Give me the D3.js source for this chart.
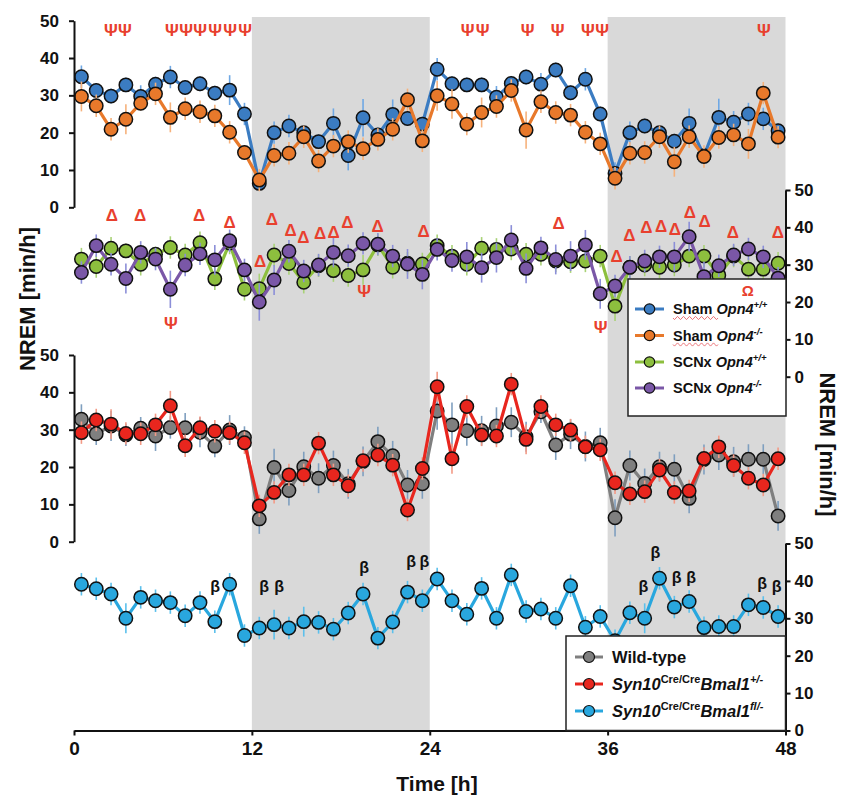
<!DOCTYPE html>
<html><head><meta charset="utf-8">
<script src="https://cdn.jsdelivr.net/npm/d3@7"></script>
<style>body{margin:0;background:#fff}svg{display:block}text{font-family:"Liberation Sans",Arial,sans-serif}</style>
</head><body><svg id="c" width="843" height="798"></svg>
<script>
// ---------- data ----------
const hours = d3.range(48).map(i => i + 0.5);       // hourly bins (ZT)
const xTicks = [0, 12, 24, 36, 48];
const yTicks = [0, 10, 20, 30, 40, 50];
const darkStarts = [12, 36];
const darkEnds = [24, 48];

const shamWT = [35.0,31.3,29.8,32.8,29.7,33.0,34.9,32.1,33.1,30.6,31.4,25.0,6.4,20.0,21.8,20.0,17.6,22.5,13.9,24.0,19.4,24.9,23.8,22.3,37.0,33.1,32.8,32.8,29.5,33.2,34.9,33.0,36.8,30.7,34.3,25.0,9.1,20.0,21.8,20.0,17.7,22.5,13.8,24.1,22.8,25.0,23.7,20.5];
const shamKO = [29.7,27.2,20.9,23.6,27.9,30.4,24.1,26.4,25.6,24.5,20.1,14.7,7.3,13.9,14.5,18.9,12.4,16.4,17.6,15.7,18.2,20.9,28.8,17.8,29.9,27.7,22.3,25.4,27.0,31.3,20.7,28.3,25.4,24.7,20.1,17.0,7.8,14.5,14.7,18.9,12.2,18.9,13.6,18.7,19.4,17.0,30.6,18.8];
const scnWT = [31.5,29.5,34.4,33.7,30.1,32.8,34.6,32.6,35.9,26.2,35.8,23.4,23.6,32.6,30.3,25.3,29.7,28.4,27.1,28.6,35.3,29.3,30.4,30.2,35.1,32.3,30.1,34.4,34.1,34.2,32.8,32.8,31.0,30.8,31.0,32.3,18.9,29.3,29.9,29.3,29.9,32.3,32.3,27.2,32.3,28.8,28.8,30.4];
const scnKO = [27.9,35.1,30.1,26.3,33.3,31.5,23.4,29.9,32.9,31.3,36.4,28.6,20.0,25.9,33.6,28.3,29.9,33.3,32.4,35.7,35.5,32.3,30.2,27.4,34.1,31.1,32.1,29.2,31.9,36.6,29.0,34.5,31.4,32.3,35.3,22.2,24.3,29.3,31.0,32.1,32.1,37.5,26.8,29.7,32.6,34.2,32.1,26.4];
const wildType = [32.8,28.9,31.0,28.6,30.4,28.3,30.6,30.5,29.3,25.6,29.9,27.9,6.1,19.9,13.7,20.1,17.0,20.4,15.5,21.5,26.8,23.0,15.2,15.5,35.0,31.3,29.7,29.7,31.0,32.0,28.1,34.8,25.9,28.8,25.5,26.5,6.4,20.4,15.6,20.1,19.4,11.6,22.0,23.2,21.4,22.1,22.1,6.9];
const bmalHet = [29.2,32.6,31.5,29.0,28.9,31.3,36.4,25.7,30.5,29.6,29.2,26.5,9.6,13.2,17.9,17.9,26.4,17.9,15.0,21.7,23.2,20.5,8.5,19.6,41.5,22.2,36.2,28.6,28.3,42.2,27.4,36.2,31.3,29.9,25.4,24.6,15.8,12.8,13.4,19.2,13.2,13.6,22.3,25.4,20.4,17.0,15.2,22.2];
const bmalFl = [39.1,37.9,36.5,30.0,35.6,34.7,34.2,30.7,34.2,29.1,39.1,25.4,27.4,28.3,27.4,29.1,28.9,27.1,31.4,36.5,24.7,29.0,37.0,34.7,40.5,34.7,31.1,38.0,30.0,41.6,31.8,32.5,30.0,38.7,27.6,30.5,24.0,31.5,30.0,40.7,33.0,34.5,27.5,27.8,27.8,33.6,32.9,30.5];

const errShamWT = [3,2,2,2,3,2,3,2,2,2,4,3,2,3,3,2,2,4,4,5,2,4,2,2,3,2,2,2,3,2,2,3,2,2,3,2,3,3,2,2,2,4,2,5,3,3,3,2];
const errShamKO = [4,3,3,4,2,3,4,3,3,3,3,2,3,3,3,3,3,3,3,3,3,3,3,3,4,4,3,4,3,3,5,3,3,3,3,3,3,3,3,3,4,3,3,3,3,4,3,3];
const errScnWT = [3,3,3,2,3,2,3,3,3,3,3,3,4,3,3,3,3,3,3,4,3,3,3,3,3,3,3,3,3,3,3,3,3,3,3,3,4,3,3,3,3,3,3,3,3,3,3,3];
const errScnKO = [3,3,3,4,3,3,5,3,3,4,3,3,5,4,3,3,3,4,3,3,3,3,4,4,3,3,4,4,4,4,4,3,4,4,4,4,3,3,3,3,4,4,4,3,3,3,3,3];
const errWild = [4,3,4,3,3,4,3,4,4,3,4,3,4,5,4,4,4,4,4,4,4,4,4,4,5,6,4,4,5,4,4,3,4,4,4,4,5,4,4,4,4,4,4,4,4,4,4,4];
const errHet = [3,3,4,3,3,3,4,3,3,3,3,3,3,3,3,3,3,3,3,3,3,3,3,3,4,4,3,3,3,3,4,3,3,3,3,3,3,3,3,3,3,3,3,3,3,3,3,3];
const errFl = [3,3,3,4,3,3,3,3,3,3,3,3,3,4,3,4,3,3,3,3,3,3,3,3,3,3,3,3,3,3,3,3,3,3,3,3,3,3,4,3,3,3,3,3,3,3,3,3];

// significance marks (hour position, level in panel units)
const psiTopH = [2.48,3.44,6.6,7.56,8.51,9.52,10.53,11.55,26.56,27.57,30.61,32.63,34.66,35.63,46.54];
const psiTopV = 47.5;
const deltaH = [2.55,4.46,8.44,10.49,12.56,13.35,14.62,15.48,16.61,17.51,18.45,20.48,23.59,32.70,36.60,37.47,38.62,39.61,40.53,41.55,42.54,44.45,47.49];
const deltaV = [43.3,43.3,43.3,41.4,31.0,42.2,39.3,37.5,38.6,38.8,41.3,40.4,39.1,41.1,32.3,38.0,40.2,40.4,39.6,44.0,41.8,38.8,38.7];
const psiMidH = [6.53,19.58,35.52];
const psiMidV = [14.5,23.0,13.4];
const omegaH = [45.46];
const omegaV = [23.0];
const betaH = [9.52,12.83,13.84,19.58,22.75,23.63,38.42,39.23,40.65,41.64,46.43,47.40];
const betaV = [38.6,38.6,38.6,43.7,45.3,45.3,38.4,47.7,41.0,41.0,39.4,38.4];

// ---------- drawing ----------
const svg = d3.select("#c");
const x = d3.scaleLinear().domain([0, 48]).range([74, 785.5]);
const y1 = d3.scaleLinear().domain([0, 50]).range([207.3, 20.7]);
const y2 = d3.scaleLinear().domain([0, 50]).range([376.7, 190]);
const y3 = d3.scaleLinear().domain([0, 50]).range([541.7, 355]);
const y4 = d3.scaleLinear().domain([0, 50]).range([730.5, 543.5]);

darkStarts.forEach((s, k) => {
  svg.append("rect").attr("x", x(s)).attr("y", 17).attr("width", x(darkEnds[k]) - x(s))
    .attr("height", 730.5 - 17).attr("fill", "#d9d9d9");
});

function series(y, vals, errs, color, errColor) {
  const g = svg.append("g");
  g.selectAll("line.e").data(vals).join("line")
    .attr("x1", (d, i) => x(hours[i])).attr("x2", (d, i) => x(hours[i]))
    .attr("y1", (d, i) => y(d - errs[i])).attr("y2", (d, i) => y(d + errs[i]))
    .attr("stroke", errColor).attr("stroke-width", 1.6);
  g.append("path").datum(vals)
    .attr("d", d3.line().x((d, i) => x(hours[i])).y(d => y(d)))
    .attr("fill", "none").attr("stroke", color).attr("stroke-width", 3.2).attr("stroke-linejoin", "round");
  g.selectAll("circle").data(vals).join("circle")
    .attr("cx", (d, i) => x(hours[i])).attr("cy", d => y(d)).attr("r", 6.7)
    .attr("fill", color).attr("stroke", "#111").attr("stroke-width", 1.5);
}

const C = {shamWT:"#3b7cc2", shamKO:"#e8792b", scnWT:"#8dbf3e", scnKO:"#7a57a7", wild:"#7f7f7f", het:"#e8261e", fl:"#29a7de"};

series(y1, shamWT, errShamWT, C.shamWT, "#6fa8e4");
series(y1, shamKO, errShamKO, C.shamKO, "#f6b27c");
series(y2, scnWT, errScnWT, C.scnWT, "#a9d277");
series(y2, scnKO, errScnKO, C.scnKO, "#8c8fd8");
series(y3, wildType, errWild, C.wild, "#7f9fbf");
series(y3, bmalHet, errHet, C.het, "#f39a86");
series(y4, bmalFl, errFl, C.fl, "#5cc0ec");

function styleAxis(g, fs) {
  g.select(".domain").attr("stroke", "#111").attr("stroke-width", 2);
  g.selectAll(".tick line").attr("stroke", "#111").attr("stroke-width", 2);
  g.selectAll(".tick text").attr("font-size", fs).attr("font-weight", "bold").attr("fill", "#111")
    .style("font-family", '"Liberation Sans",Arial,sans-serif');
}
[[y1, "L"], [y2, "R"], [y3, "L"], [y4, "R"]].forEach(([y, side]) => {
  const ax = side === "L" ? d3.axisLeft(y).tickPadding(10) : d3.axisRight(y).tickPadding(4);
  ax.tickValues(yTicks).tickSize(5).tickSizeOuter(0);
  const g = svg.append("g").attr("transform", `translate(${side === "L" ? x(0) : x(48)},0)`).call(ax);
  styleAxis(g, 17);
});
const gx = svg.append("g").attr("transform", "translate(0,730.5)")
  .call(d3.axisBottom(x).tickValues(xTicks).tickSize(5).tickSizeOuter(0).tickPadding(6.5));
styleAxis(gx, 19);

svg.append("text").attr("transform", "translate(35,299) rotate(-90)").attr("text-anchor", "middle")
  .attr("font-size", 22).attr("font-weight", "bold").attr("fill", "#111").text("NREM [min/h]");
svg.append("text").attr("transform", "translate(820,444.5) rotate(90)").attr("text-anchor", "middle")
  .attr("font-size", 22).attr("font-weight", "bold").attr("fill", "#111").text("NREM [min/h]");
svg.append("text").attr("x", 437).attr("y", 791).attr("text-anchor", "middle")
  .attr("font-size", 21).attr("font-weight", "bold").attr("fill", "#111").text("Time [h]");

function marks(hs, vs, y, sym, color, fs) {
  svg.append("g").selectAll("text").data(hs).join("text")
    .attr("x", h => x(h)).attr("y", (h, i) => y(Array.isArray(vs) ? vs[i] : vs))
    .attr("dy", "0.35em").attr("text-anchor", "middle")
    .attr("font-size", fs).attr("font-weight", "bold").attr("fill", color).text(sym);
}
marks(psiTopH, psiTopV, y1, "Ψ", "#e8402e", 17);
marks(deltaH, deltaV, y2, "Δ", "#e8402e", 17);
marks(psiMidH, psiMidV, y2, "Ψ", "#e8402e", 17);
marks(betaH, betaV, y4, "β", "#111", 16);

// legend 1
const L1 = svg.append("g");
L1.append("rect").attr("x", 628).attr("y", 279).attr("width", 158).attr("height", 137)
  .attr("fill", "#fff").attr("stroke", "#222").attr("stroke-width", 1.5);
marks(omegaH, omegaV, y2, "Ω", "#e8402e", 15);
const leg1 = [
  {pre: "Sham ", it: "Opn4", sup: "+/+", c: C.shamWT, wavy: true},
  {pre: "Sham ", it: "Opn4", sup: "-/-", c: C.shamKO, wavy: true},
  {pre: "SCNx ", it: "Opn4", sup: "+/+", c: C.scnWT},
  {pre: "SCNx ", it: "Opn4", sup: "-/-", c: C.scnKO}
];
const leg1Y = [309, 335.5, 362, 388];
leg1.forEach((d, k) => {
  const yy = leg1Y[k];
  L1.append("line").attr("x1", 635).attr("x2", 664).attr("y1", yy).attr("y2", yy)
    .attr("stroke", d.c).attr("stroke-width", 3);
  L1.append("circle").attr("cx", 649.5).attr("cy", yy).attr("r", 5.2).attr("fill", d.c)
    .attr("stroke", "#111").attr("stroke-width", 1.2);
  const t = L1.append("text").attr("x", 673).attr("y", yy + 5).attr("font-size", 14.5)
    .attr("font-weight", "bold").attr("fill", "#111");
  t.append("tspan").text(d.pre);
  t.append("tspan").attr("font-style", "italic").text(d.it);
  t.append("tspan").attr("font-size", 9.5).attr("dy", -6).attr("font-style", "italic").text(d.sup);
  if (d.wavy) {
    let p = "M673," + (yy + 9);
    for (let s = 0; s < 15; s++) p += "l1.5," + (s % 2 ? -1.6 : 1.6) + "l1.5," + (s % 2 ? 1.6 : -1.6);
    L1.append("path").attr("d", p).attr("fill", "none").attr("stroke", "#e8646a").attr("stroke-width", 0.9);
  }
});

// legend 2
const L2 = svg.append("g");
L2.append("rect").attr("x", 566).attr("y", 636).attr("width", 219.5).attr("height", 94.5)
  .attr("fill", "#fff").attr("stroke", "#222").attr("stroke-width", 1.5);
const leg2Y = [657, 684, 711];
const leg2 = [
  {c: C.wild, parts: [["Wild-type", "normal", 0]]},
  {c: C.het, parts: [["Syn10", "italic", 0], ["Cre/Cre", "normal", 1], ["Bmal1", "italic", 0], ["+/-", "italic", 1]]},
  {c: C.fl, parts: [["Syn10", "italic", 0], ["Cre/Cre", "normal", 1], ["Bmal1", "italic", 0], ["fl/-", "italic", 1]]}
];
leg2.forEach((d, k) => {
  const yy = leg2Y[k];
  L2.append("line").attr("x1", 575).attr("x2", 603).attr("y1", yy).attr("y2", yy)
    .attr("stroke", d.c).attr("stroke-width", 3);
  L2.append("circle").attr("cx", 589).attr("cy", yy).attr("r", 5.5).attr("fill", d.c)
    .attr("stroke", "#111").attr("stroke-width", 1.2);
  const t = L2.append("text").attr("x", 612).attr("y", yy + 6).attr("font-size", 16.5)
    .attr("font-weight", "bold").attr("fill", "#111");
  let up = false;
  d.parts.forEach(([s, st, sup]) => {
    const ts = t.append("tspan").attr("font-style", st).text(s);
    if (sup && !up) { ts.attr("font-size", 11).attr("dy", -7); up = true; }
    else if (sup && up) { ts.attr("font-size", 11); }
    else if (!sup && up) { ts.attr("dy", 7); up = false; }
  });
});
</script></body></html>
